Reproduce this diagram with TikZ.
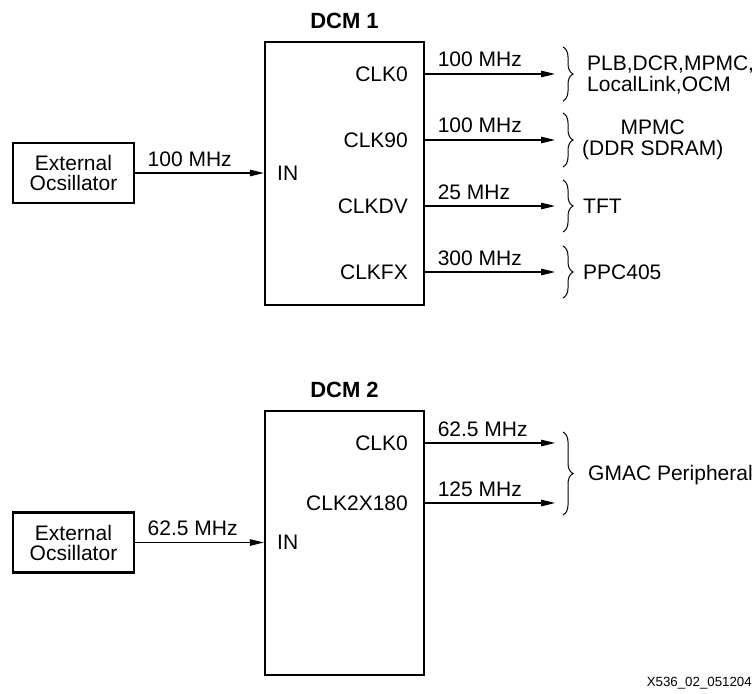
\documentclass[tikz,border=0pt]{standalone}
\usepackage{fontspec}
\setmainfont{Liberation Sans}
\usepackage{tikz}
\usetikzlibrary{positioning, arrows.meta, decorations.pathreplacing}

\begin{document}
\begin{tikzpicture}[x=1bp, y=-1bp,
    txt/.style={inner sep=0pt, font=\fontsize{21bp}{21bp}\selectfont},
    dcm/.style={draw, line width=2.4bp, minimum width=159bp, minimum height=263bp, inner sep=0pt},
    osc/.style={draw, line width=2.2bp, minimum width=121bp, minimum height=60bp, inner sep=0pt, align=center, font=\fontsize{21bp}{20bp}\selectfont},
    title/.style={inner sep=0pt, anchor=base, font=\fontsize{22bp}{22bp}\selectfont\bfseries},
    sig/.style={line width=1.2bp, -{Triangle[length=14bp,width=6.5bp]}},
    freq/.style={txt, anchor=base west, pos=0, xshift=12bp, yshift=7bp},
    brc/.style={line width=1bp, decorate, decoration={brace, amplitude=10bp}}
]
\useasboundingbox (0,0) rectangle (755,694);

\node[dcm] (dcm1) at (344.5,173.5) {};
\node[title] (t1) at (344.5,28.5) {DCM 1};
\node[txt, anchor=base east] (clk0a) at (408,81.5) {CLK0};
\node[txt, anchor=base east] (clk90) at (408,147.5) {CLK90};
\node[txt, anchor=base east] (clkdv) at (408,213.5) {CLKDV};
\node[txt, anchor=base east] (clkfx) at (408,279.5) {CLKFX};
\node[txt, anchor=base west] (in1) at (277,180.5) {IN};
\node[osc] (osc1) at (73.5,173) {External\\Ocsillator};

\coordinate (o1) at (555,74);
\coordinate (o2) at (555,140);
\coordinate (o3) at (555,206);
\coordinate (o4) at (555,272);

\draw[sig] (osc1) -- (dcm1.west |- osc1) node[freq] {100 MHz};
\draw[sig] (dcm1.east |- o1) -- (o1) node[freq] {100 MHz};
\draw[sig] (dcm1.east |- o2) -- (o2) node[freq] {100 MHz};
\draw[sig] (dcm1.east |- o3) -- (o3) node[freq] {25 MHz};
\draw[sig] (dcm1.east |- o4) -- (o4) node[freq] {300 MHz};

\draw[brc] ([xshift=8bp,yshift=27bp]o1) -- ([xshift=8bp,yshift=-27bp]o1);
\draw[brc] ([xshift=8bp,yshift=27bp]o2) -- ([xshift=8bp,yshift=-27bp]o2);
\draw[brc] ([xshift=8bp,yshift=26bp]o3) -- ([xshift=8bp,yshift=-26bp]o3);
\draw[brc] ([xshift=8bp,yshift=26bp]o4) -- ([xshift=8bp,yshift=-26bp]o4);

\node[txt, anchor=west, align=left] (dst1) at (587,75) {PLB,DCR,MPMC,\\LocalLink,OCM};
\node[txt, anchor=west, align=center] (dst2) at (582,140) {MPMC\\(DDR SDRAM)};
\node[txt, anchor=west] (dst3) at (583,206) {TFT};
\node[txt, anchor=west] (dst4) at (583,272) {PPC405};

\node[dcm, minimum height=264bp] (dcm2) at (344.5,543) {};
\node[title] (t2) at (344.5,397.5) {DCM 2};
\node[txt, anchor=base east] (clk0b) at (408,450.5) {CLK0};
\node[txt, anchor=base east] (clk2x) at (408,510.5) {CLK2X180};
\node[txt, anchor=base west] (in2) at (277,549.5) {IN};
\node[osc] (osc2) at (73.5,542.5) {External\\Ocsillator};

\coordinate (p1) at (555,443);
\coordinate (p2) at (555,503);

\draw[sig] (osc2) -- (dcm2.west |- osc2) node[freq] {62.5 MHz};
\draw[sig] (dcm2.east |- p1) -- (p1) node[freq] {62.5 MHz};
\draw[sig] (dcm2.east |- p2) -- (p2) node[freq] {125 MHz};

\draw[brc] ([xshift=8bp,yshift=11bp]p1) -- ([xshift=8bp,yshift=-12bp]p2);
\node[txt, anchor=base west] (gmac) at (588,480.5) {GMAC Peripheral};

\node[inner sep=0pt, anchor=base east, font=\fontsize{13.3bp}{14bp}\selectfont] (fig) at (752,686) {X536\_02\_051204};
\end{tikzpicture}
\end{document}
